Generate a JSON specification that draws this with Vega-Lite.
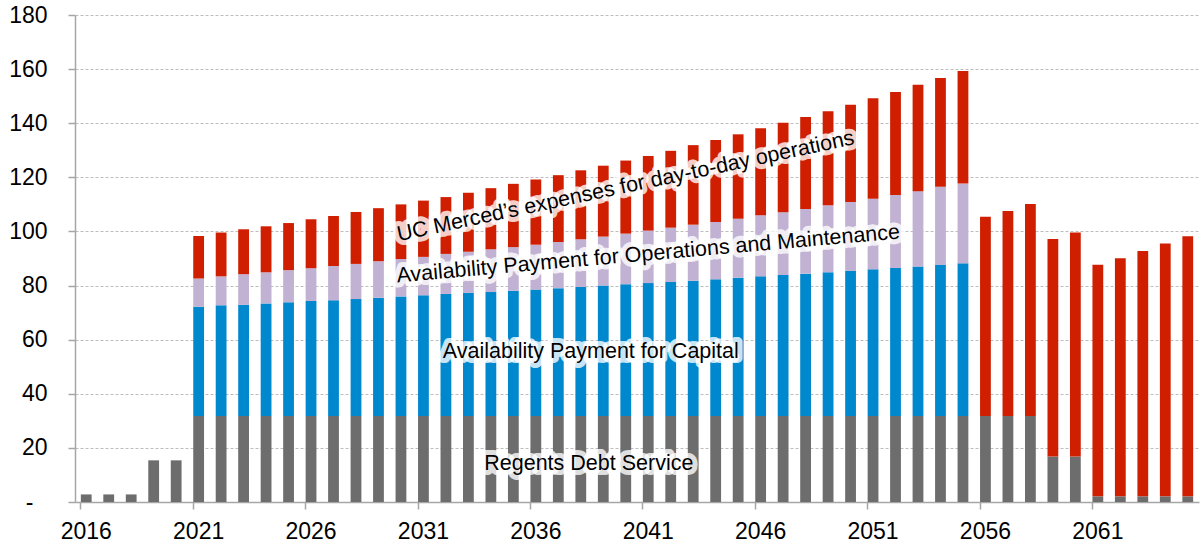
{
  "$schema": "https://vega.github.io/schema/vega-lite/v6.json",
  "width": 1124,
  "height": 487,
  "autosize": {"type": "none"},
  "padding": {"left": 75, "top": 15, "right": 5, "bottom": 46},
  "background": "white",
  "datasets": {
    "costs": [
      {"year": 2016, "debt": 2.8},
      {"year": 2017, "debt": 2.8},
      {"year": 2018, "debt": 2.8},
      {"year": 2019, "debt": 15.4},
      {"year": 2020, "debt": 15.4},
      {"year": 2021, "debt": 31.8, "payCapital": 40.4, "payOM": 10.4, "ucOps": 15.7},
      {"year": 2022, "debt": 31.8, "payCapital": 40.9, "payOM": 10.7, "ucOps": 16.2},
      {"year": 2023, "debt": 31.8, "payCapital": 41.1, "payOM": 11.3, "ucOps": 16.6},
      {"year": 2024, "debt": 31.8, "payCapital": 41.6, "payOM": 11.5, "ucOps": 17.0},
      {"year": 2025, "debt": 31.8, "payCapital": 42.0, "payOM": 11.9, "ucOps": 17.4},
      {"year": 2026, "debt": 31.8, "payCapital": 42.5, "payOM": 12.1, "ucOps": 18.1},
      {"year": 2027, "debt": 31.8, "payCapital": 42.8, "payOM": 12.6, "ucOps": 18.5},
      {"year": 2028, "debt": 31.8, "payCapital": 43.2, "payOM": 13.0, "ucOps": 19.2},
      {"year": 2029, "debt": 31.8, "payCapital": 43.7, "payOM": 13.5, "ucOps": 19.6},
      {"year": 2030, "debt": 31.8, "payCapital": 44.2, "payOM": 13.8, "ucOps": 20.2},
      {"year": 2031, "debt": 31.8, "payCapital": 44.6, "payOM": 14.2, "ucOps": 20.8},
      {"year": 2032, "debt": 31.8, "payCapital": 45.1, "payOM": 14.8, "ucOps": 21.0},
      {"year": 2033, "debt": 31.8, "payCapital": 45.5, "payOM": 15.2, "ucOps": 21.8},
      {"year": 2034, "debt": 31.8, "payCapital": 45.8, "payOM": 15.8, "ucOps": 22.6},
      {"year": 2035, "debt": 31.8, "payCapital": 46.3, "payOM": 16.1, "ucOps": 23.4},
      {"year": 2036, "debt": 31.8, "payCapital": 46.7, "payOM": 16.6, "ucOps": 24.1},
      {"year": 2037, "debt": 31.8, "payCapital": 47.2, "payOM": 17.1, "ucOps": 24.7},
      {"year": 2038, "debt": 31.8, "payCapital": 47.7, "payOM": 17.6, "ucOps": 25.5},
      {"year": 2039, "debt": 31.8, "payCapital": 48.2, "payOM": 18.1, "ucOps": 26.2},
      {"year": 2040, "debt": 31.8, "payCapital": 48.7, "payOM": 18.7, "ucOps": 27.0},
      {"year": 2041, "debt": 31.8, "payCapital": 49.1, "payOM": 19.4, "ucOps": 27.6},
      {"year": 2042, "debt": 31.8, "payCapital": 49.5, "payOM": 20.1, "ucOps": 28.4},
      {"year": 2043, "debt": 31.8, "payCapital": 50.0, "payOM": 20.7, "ucOps": 29.4},
      {"year": 2044, "debt": 31.8, "payCapital": 50.5, "payOM": 21.2, "ucOps": 30.3},
      {"year": 2045, "debt": 31.8, "payCapital": 51.1, "payOM": 21.8, "ucOps": 31.2},
      {"year": 2046, "debt": 31.8, "payCapital": 51.6, "payOM": 22.6, "ucOps": 32.1},
      {"year": 2047, "debt": 31.8, "payCapital": 52.1, "payOM": 23.2, "ucOps": 33.1},
      {"year": 2048, "debt": 31.8, "payCapital": 52.6, "payOM": 23.9, "ucOps": 34.0},
      {"year": 2049, "debt": 31.8, "payCapital": 53.1, "payOM": 24.8, "ucOps": 34.7},
      {"year": 2050, "debt": 31.8, "payCapital": 53.6, "payOM": 25.5, "ucOps": 35.9},
      {"year": 2051, "debt": 31.8, "payCapital": 54.2, "payOM": 26.1, "ucOps": 37.1},
      {"year": 2052, "debt": 31.8, "payCapital": 54.7, "payOM": 27.0, "ucOps": 38.0},
      {"year": 2053, "debt": 31.8, "payCapital": 55.2, "payOM": 27.9, "ucOps": 39.3},
      {"year": 2054, "debt": 31.8, "payCapital": 55.8, "payOM": 28.9, "ucOps": 40.2},
      {"year": 2055, "debt": 31.8, "payCapital": 56.4, "payOM": 29.5, "ucOps": 41.6},
      {"year": 2056, "debt": 31.8, "ucOps": 73.6},
      {"year": 2057, "debt": 31.8, "ucOps": 75.8},
      {"year": 2058, "debt": 31.8, "ucOps": 78.3},
      {"year": 2059, "debt": 16.8, "ucOps": 80.4},
      {"year": 2060, "debt": 16.8, "ucOps": 82.8},
      {"year": 2061, "debt": 2.1, "ucOps": 85.6},
      {"year": 2062, "debt": 2.1, "ucOps": 88.0},
      {"year": 2063, "debt": 2.1, "ucOps": 90.7},
      {"year": 2064, "debt": 2.1, "ucOps": 93.4},
      {"year": 2065, "debt": 2.1, "ucOps": 96.1}
    ],
    "labels": [
      {"label": "Regents Debt Service", "year": 2038, "value": 14.0},
      {"label": "Availability Payment for Capital", "year": 2038, "value": 55.6},
      {"label": "Availability Payment for Operations and Maintenance", "year": 2041, "value": 91.5},
      {"label": "UC Merced’s expenses for day-to-day operations", "year": 2040, "value": 116.5}
    ]
  },
  "encoding": {
    "x": {
      "field": "year",
      "type": "ordinal",
      "scale": {"paddingInner": 0.52, "paddingOuter": 0.26},
      "axis": {
        "title": null,
        "values": [2016, 2021, 2026, 2031, 2036, 2041, 2046, 2051, 2056, 2061],
        "labelAngle": 0,
        "bandPosition": 0,
        "labelOverlap": false,
        "labelFontSize": 23,
        "labelFont": "Liberation Sans",
        "labelColor": "#000000",
        "labelPadding": 11,
        "tickSize": 7,
        "tickWidth": 1.5,
        "tickColor": "#a6a6a6",
        "domainColor": "#a6a6a6",
        "domainWidth": 1.5,
        "grid": false
      }
    },
    "y": {
      "field": "value",
      "type": "quantitative",
      "scale": {"domain": [0, 180], "nice": false},
      "axis": {
        "title": null,
        "values": [0, 20, 40, 60, 80, 100, 120, 140, 160, 180],
        "labelExpr": "datum.value == 0 ? '-' : datum.label",
        "labelFontSize": 23,
        "labelFont": "Liberation Sans",
        "labelColor": "#000000",
        "labelPadding": {"condition": {"test": "datum.value == 0", "value": 35}, "value": 21},
        "tickSize": 7,
        "tickWidth": 1.5,
        "tickColor": "#a6a6a6",
        "domainColor": "#a6a6a6",
        "domainWidth": 1.5,
        "grid": true,
        "gridColor": "#bdbdbd",
        "gridDash": [3, 2],
        "gridWidth": 1
      }
    }
  },
  "layer": [
    {
      "data": {"name": "costs"},
      "transform": [
        {"fold": ["debt", "payCapital", "payOM", "ucOps"], "as": ["series", "value"]},
        {"filter": "isValid(datum.value) && datum.value > 0"}
      ],
      "mark": {"type": "bar"},
      "encoding": {
        "color": {
          "field": "series",
          "type": "nominal",
          "scale": {
            "domain": ["debt", "payCapital", "payOM", "ucOps"],
            "range": ["#6d6d6d", "#0088cf", "#c1b1d3", "#d01f00"]
          },
          "legend": null
        },
        "order": {"field": "series", "sort": "ascending"}
      }
    },
    {
      "data": {"name": "labels"},
      "transform": [{"filter": "datum.label == 'Regents Debt Service'"}],
      "encoding": {"text": {"field": "label"}},
      "layer": [
        {"mark": {"type": "text", "dx": 8, "font": "Liberation Sans", "fontSize": 21.5, "fill": "white", "stroke": "white", "strokeWidth": 10, "strokeOpacity": 0.8, "strokeJoin": "round"}},
        {"mark": {"type": "text", "dx": 8, "font": "Liberation Sans", "fontSize": 21.5, "fill": "#000000"}}
      ]
    },
    {
      "data": {"name": "labels"},
      "transform": [{"filter": "datum.label == 'Availability Payment for Capital'"}],
      "encoding": {"text": {"field": "label"}},
      "layer": [
        {"mark": {"type": "text", "dx": 10, "font": "Liberation Sans", "fontSize": 21.5, "fill": "white", "stroke": "white", "strokeWidth": 10, "strokeOpacity": 0.8, "strokeJoin": "round"}},
        {"mark": {"type": "text", "dx": 10, "font": "Liberation Sans", "fontSize": 21.5, "fill": "#000000"}}
      ]
    },
    {
      "data": {"name": "labels"},
      "transform": [{"filter": "datum.label == 'Availability Payment for Operations and Maintenance'"}],
      "encoding": {"text": {"field": "label"}},
      "layer": [
        {"mark": {"type": "text", "angle": 355, "font": "Liberation Sans", "fontSize": 21.5, "fill": "white", "stroke": "white", "strokeWidth": 10, "strokeOpacity": 0.8, "strokeJoin": "round"}},
        {"mark": {"type": "text", "angle": 355, "font": "Liberation Sans", "fontSize": 21.5, "fill": "#000000"}}
      ]
    },
    {
      "data": {"name": "labels"},
      "transform": [{"filter": "datum.label == 'UC Merced’s expenses for day-to-day operations'"}],
      "encoding": {"text": {"field": "label"}},
      "layer": [
        {"mark": {"type": "text", "angle": 348, "font": "Liberation Sans", "fontSize": 21.5, "fill": "white", "stroke": "white", "strokeWidth": 10, "strokeOpacity": 0.8, "strokeJoin": "round"}},
        {"mark": {"type": "text", "angle": 348, "font": "Liberation Sans", "fontSize": 21.5, "fill": "#000000"}}
      ]
    }
  ],
  "config": {
    "view": {"stroke": null},
    "font": "Liberation Sans"
  }
}
